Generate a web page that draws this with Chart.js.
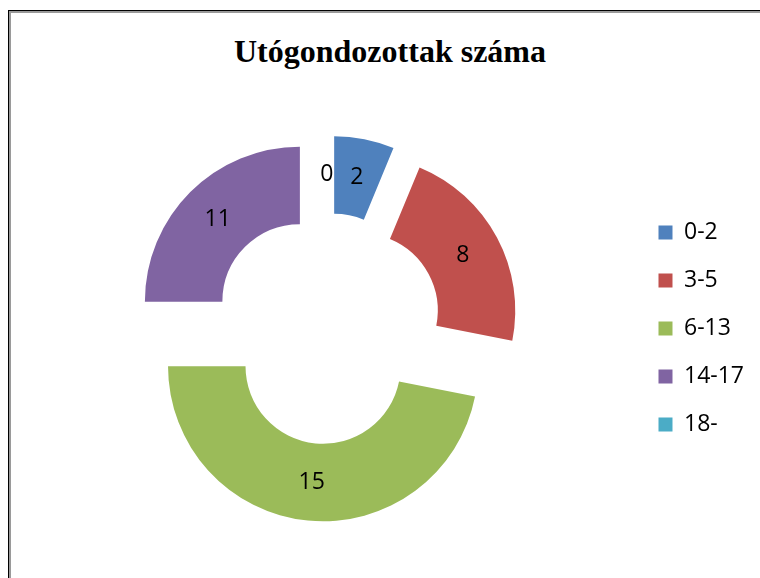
<!DOCTYPE html>
<html>
<head>
<meta charset="utf-8">
<script src="https://cdn.jsdelivr.net/npm/chart.js@4"></script>
<style>
  body { margin: 0; background: #fff; }
  #wrap { position: relative; width: 760px; height: 578px; overflow: hidden; }
  #frame {
    position: absolute; left: 8px; top: 10px; width: 800px; height: 620px;
    border-left: 1px solid #000; border-top: 1px solid #000;
    box-shadow: inset 2px 2px 0 #9a9a9a;
  }
  #title {
    position: absolute; left: 0; width: 780px; top: 35px;
    text-align: center; font: bold 32px "Liberation Serif", serif; line-height: 1;
    color: #000;
  }
  #c { position: absolute; left: 0; top: 0; }
</style>
</head>
<body>
<div id="wrap">
  <div id="frame"></div>
  <div id="title">Utógondozottak száma</div>
  <canvas id="c" width="760" height="578"></canvas>
</div>
<script>
const categories = ['0-2', '3-5', '6-13', '14-17', '18-'];
// slice sizes as they are drawn in the picture (angles 22.5, 78.75, 168.75, 90 deg)
const sliceValues = [2, 7, 15, 8, 0];
// data labels as printed on the slices
const printedLabels = ['2', '8', '15', '11', '0'];
const colors = ['#4F81BD', '#C0504D', '#9BBB59', '#8064A2', '#4BACC6'];

const EXPLODE = 38; // px every slice is pulled out from the centre
const FONT = '"Open Sans", sans-serif';

// chart.js "offset" also grows the radius of narrow slices,
// so pull every arc out with a plain translate instead
const explodePlugin = {
  id: 'explode',
  beforeDatasetsDraw(chart) {
    chart.getDatasetMeta(0).data.forEach(arc => {
      if (arc.exploded) return;
      const baseDraw = arc.draw;
      arc.draw = function (ctx) {
        const half = (this.startAngle + this.endAngle) / 2;
        ctx.save();
        ctx.translate(Math.cos(half) * EXPLODE, Math.sin(half) * EXPLODE);
        baseDraw.call(this, ctx);
        ctx.restore();
      };
      arc.exploded = true;
    });
  }
};

const labelPlugin = {
  id: 'sliceLabels',
  afterDatasetsDraw(chart) {
    const ctx = chart.ctx;
    const meta = chart.getDatasetMeta(0);
    ctx.save();
    ctx.font = '23px ' + FONT;
    ctx.fillStyle = '#000';
    ctx.textAlign = 'center';
    ctx.textBaseline = 'middle';
    meta.data.forEach((arc, i) => {
      const p = arc.getProps(['x', 'y', 'startAngle', 'endAngle', 'innerRadius', 'outerRadius'], true);
      const half = (p.startAngle + p.endAngle) / 2;
      const r = EXPLODE + (p.innerRadius + p.outerRadius) / 2;
      ctx.fillText(printedLabels[i], p.x + Math.cos(half) * r, p.y + Math.sin(half) * r);
    });
    ctx.restore();
  }
};

new Chart(document.getElementById('c'), {
  type: 'doughnut',
  data: {
    labels: categories,
    datasets: [{
      data: sliceValues,
      backgroundColor: colors,
      borderWidth: 0,
      offset: 0,
      hoverOffset: 0
    }]
  },
  options: {
    responsive: false,
    devicePixelRatio: 1,
    animation: false,
    events: [],
    radius: 155,
    cutout: '50%',
    layout: { padding: { top: 81, bottom: 2, left: 20, right: 6 } },
    plugins: {
      title: { display: false },
      tooltip: { enabled: false },
      legend: {
        position: 'right',
        labels: {
          boxWidth: 14,
          boxHeight: 14,
          padding: 25,
          color: '#000',
          font: { family: FONT, size: 23 }
        }
      }
    }
  },
  plugins: [explodePlugin, labelPlugin]
});
</script>
</body>
</html>
